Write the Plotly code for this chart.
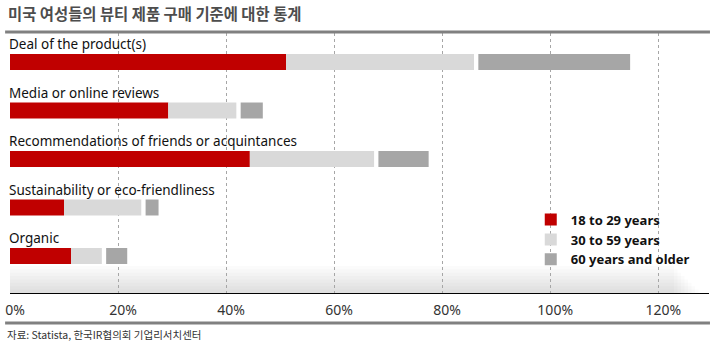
import plotly.graph_objects as go

# ---- data ----
categories = [
    "Deal of the product(s)",
    "Media or online reviews",
    "Recommendations of friends or acquintances",
    "Sustainability or eco-friendliness",
    "Organic",
]
age_18_29 = [51.1, 29.3, 44.4, 10.0, 11.3]
age_30_59 = [34.8, 12.6, 23.0, 14.3, 5.7]
age_60_up = [28.1, 4.1, 9.3, 2.4, 3.9]
series_names = ["18 to 29 years", "30 to 59 years", "60 years and older"]
tick_vals = [0, 20, 40, 60, 80, 100, 120]
tick_text = ["0%", "20%", "40%", "60%", "80%", "100%", "120%"]

title_text = "미국 여성들의 뷰티 제품 구매 기준에 대한 통계"
source_text = "자료: Statista, 한국IR협의회 기업리서치센터"

# ---- style ----
colors = ["#c00000", "#d9d9d9", "#a6a6a6"]
SEG_GAP = 0.8  # visual gap before the last segment
BAR_W = 0.33
FONT = "Noto Sans, Noto Sans CJK KR, sans-serif"
KFONT = "Noto Sans CJK KR, Noto Sans, sans-serif"

ypos = list(range(len(categories)))
base_light = age_18_29
base_dark = [a + b + SEG_GAP for a, b in zip(age_18_29, age_30_59)]

fig = go.Figure()
fig.add_trace(go.Bar(y=ypos, x=age_18_29, base=[0] * len(ypos), orientation="h",
                     width=BAR_W, marker=dict(color=colors[0], line=dict(width=0)),
                     name=series_names[0]))
fig.add_trace(go.Bar(y=ypos, x=age_30_59, base=base_light, orientation="h",
                     width=BAR_W, marker=dict(color=colors[1], line=dict(width=0)),
                     name=series_names[1]))
fig.add_trace(go.Bar(y=ypos, x=age_60_up, base=base_dark, orientation="h",
                     width=BAR_W, marker=dict(color=colors[2], line=dict(width=0)),
                     name=series_names[2]))

annotations = []
for i, c in enumerate(categories):
    annotations.append(dict(
        text=c, xref="paper", x=0, xanchor="left", xshift=-3,
        yref="y", y=i - BAR_W / 2, yanchor="bottom", yshift=-1,
        showarrow=False, font=dict(family=FONT, size=13.5, color="#111111")))

annotations.append(dict(
    text=source_text, xref="paper", yref="paper", x=-0.007, y=-0.158,
    xanchor="left", yanchor="middle", showarrow=False,
    font=dict(family=KFONT, size=10.5, color="#333333")))

shapes = []
# soft shadow band above the axis
n = 8
for k in range(1, n + 1):
    shapes.append(dict(type="rect", xref="paper", yref="paper",
                       x0=0, x1=0.99 - 0.005 * k, y0=0, y1=0.104 * k / n,
                       fillcolor="rgba(0,0,0,0.016)", line=dict(width=0), layer="below"))
# top and bottom frame lines
for yy in [1.004, -0.1154]:
    shapes.append(dict(type="line", xref="paper", yref="paper",
                       x0=-0.007, x1=1.0014, y0=yy, y1=yy,
                       line=dict(color="#808080", width=3)))

fig.update_layout(
    width=716, height=356,
    margin=dict(l=10, r=7, t=33, b=63, autoexpand=False),
    paper_bgcolor="white", plot_bgcolor="white",
    barmode="overlay",
    showlegend=True,
    legend=dict(x=0.745, y=0.34, xanchor="left", yanchor="top",
                bgcolor="rgba(0,0,0,0)", tracegroupgap=0, itemwidth=30,
                font=dict(family=FONT, size=13, color="#111111", weight="bold")),
    title=dict(text=title_text, xref="container", yref="container",
               x=8 / 716, y=1 - 15 / 356, xanchor="left", yanchor="middle",
               font=dict(family=KFONT, size=15.4, color="#4d4d4d", weight="bold")),
    xaxis=dict(range=[0, 129.4], tickvals=tick_vals, ticktext=tick_text,
               automargin=False,
               showgrid=True, gridcolor="#a6a6a6", griddash="dot", gridwidth=1,
               zeroline=False, showline=True, linecolor="black", linewidth=1,
               ticks="", ticklabelstandoff=4, ticklabelshift=5, fixedrange=True,
               tickfont=dict(family=FONT, size=14, color="#333333")),
    yaxis=dict(range=[4.763, -0.598], showgrid=False, zeroline=False,
               automargin=False,
               showticklabels=False, showline=False, ticks="", fixedrange=True),
    annotations=annotations,
    shapes=shapes,
)

fig.write_html("out.html",
               config={"displayModeBar": False, "staticPlot": True},
               post_script="document.body.style.margin='0';document.body.style.overflow='hidden';")
